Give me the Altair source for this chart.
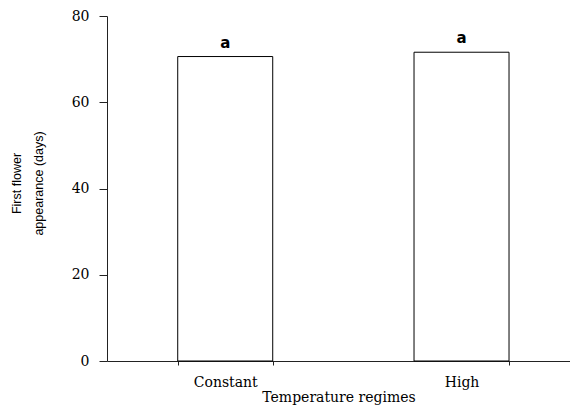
import altair as alt
import pandas as pd

regimes = ["Constant", "High"]
days = [70.6, 71.6]
letters = ["a", "a"]

df = pd.DataFrame({"regime": regimes, "days": days, "letter": letters})

serif = "DejaVu Serif"

x = alt.X(
    "regime:N",
    sort=regimes,
    scale=alt.Scale(paddingInner=0.598, paddingOuter=0.2787, align=0.537),
    axis=alt.Axis(
        title="Temperature regimes",
        labelAngle=0,
        labelFont=serif,
        labelFontSize=14,
        labelColor="#000",
        labelPadding=10,
        titleFont=serif,
        titleFontSize=14,
        titleFontWeight="normal",
        titleColor="#000",
        titleBaseline="alphabetic",
        titleY=40.5,
        tickBand="extent",
        tickSize=4,
        tickColor="#222",
        domainColor="#222",
        grid=False,
    ),
)

y = alt.Y(
    "days:Q",
    scale=alt.Scale(domain=[0, 80], nice=False),
    axis=alt.Axis(
        title=["First flower", "appearance (days)"],
        values=[0, 20, 40, 60, 80],
        labelFont=serif,
        labelFontSize=14,
        labelColor="#000",
        labelPadding=10,
        tickSize=8,
        tickColor="#222",
        domainColor="#222",
        grid=False,
        titleFont="Liberation Sans",
        titleFontSize=12.5,
        titleFontWeight="normal",
        titleColor="#000",
        titleLineHeight=22,
        titleAngle=-90,
        titleAlign="center",
        titleBaseline="top",
        titleX=-97,
        titleY=167,
    ),
)

bars = alt.Chart(df).mark_bar(fill="white", stroke="#000", strokeWidth=1).encode(x=x, y=y)

text = alt.Chart(df).mark_text(
    baseline="alphabetic",
    dy=-9,
    font="DejaVu Sans",
    fontSize=15,
    fontWeight="bold",
    color="#000",
).encode(x=alt.X("regime:N", sort=regimes), y="days:Q", text="letter:N")

chart = (
    alt.layer(bars, text)
    .properties(
        width=463,
        height=345,
        padding={"left": 99, "top": 8, "right": 0, "bottom": 44},
        autosize=alt.AutoSizeParams(type="none"),
        background="white",
    )
    .configure_view(stroke=None)
)

chart.save("out.html", embed_options={"renderer": "svg", "actions": False})
